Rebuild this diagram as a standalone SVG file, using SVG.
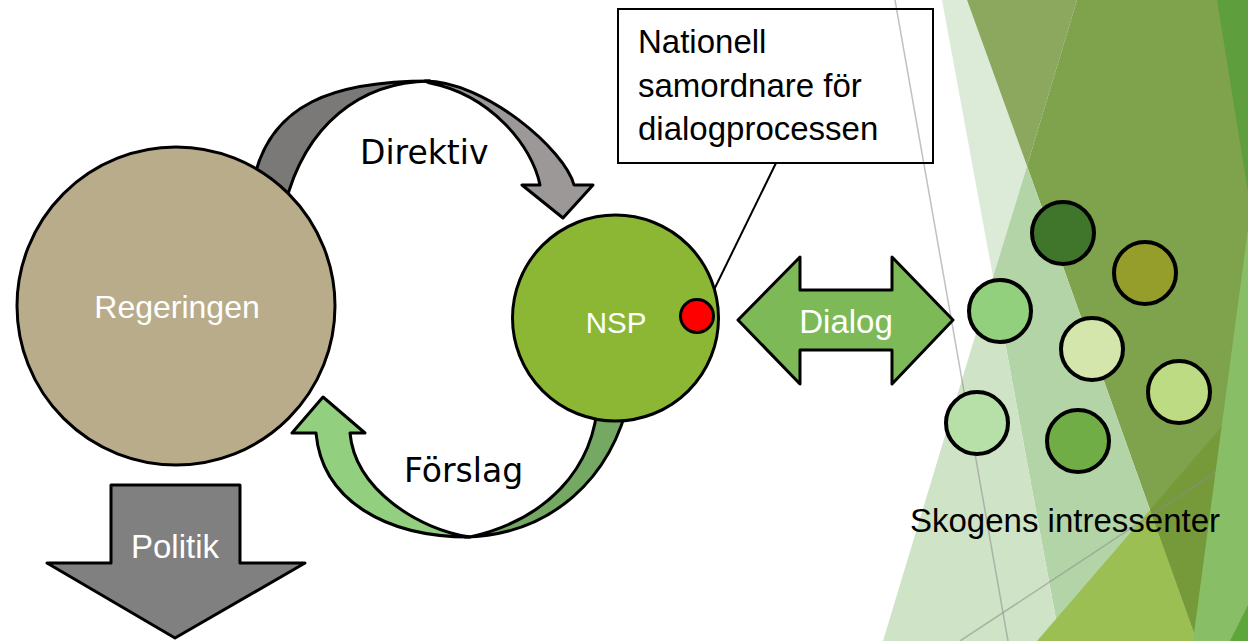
<svg xmlns="http://www.w3.org/2000/svg" width="1248" height="641" viewBox="0 0 1248 641">
<style>
.ol{stroke:#000;stroke-width:3;stroke-linejoin:round}
.sm{stroke:#000;stroke-width:4}
.wt{fill:#fff;font-family:"Liberation Sans",Arial,sans-serif;font-size:33px}
.bt{fill:#000;font-family:"Liberation Sans",Arial,sans-serif;font-size:33px}
.lb{fill:#000;font-family:"DejaVu Sans",Verdana,sans-serif;font-size:33px}
.gl{stroke:#8c8c8c;stroke-width:1.5;stroke-opacity:0.55;fill:none}
</style>
<rect width="1248" height="641" fill="#fff"/>
<g id="background">
<polygon points="942,0 967,0 1027,166 993,277" fill="#dcebd8"/>
<polygon points="967,0 1077,0 1027,166" fill="#8ba85e"/>
<polygon points="1077,0 1248,0 1248,641 1197,641 1027,166" fill="#7fa24c"/>
<polygon points="1027,166 1197,641 1060,641 993,277" fill="#b3d4a7"/>
<polygon points="993,277 1060,641 883,641" fill="#cfe3c6"/>
<polygon points="1037,641 1150,510 1197,641" fill="#9bbf52"/>
<polygon points="1150,510 1248,396 1248,641 1197,641" fill="#76993a"/>
<line class="gl" x1="895" y1="0" x2="1008" y2="641"/>
<line class="gl" x1="960" y1="641" x2="1248" y2="451"/>
<polygon points="1217,0 1248,0 1248,192" fill="#5f9e3d"/>
<polygon points="1248,229 1248,641 1193,641" fill="#88bf66"/>
<polygon points="1248,605 1248,641 1230,641" fill="#5ea53c"/>
</g>
<g id="connectors">
<g id="direktiv-arrow">
<path class="ol" fill="#7a7978" d="M252,190 C265,100 340,81 430,81 C360,82 305,125 285,205 Z"/>
<path class="ol" fill="#9b9897" d="M425,81 C485,81 565,150 574,185 L593,185 L563,218 L522,185 L540,185 C532,145 490,95 430,83 Z"/>
</g>
<g id="forslag-arrow">
<path class="ol" fill="#75a862" d="M465,537 C550,535 612,480 630,395 L598,398 C595,470 545,520 470,537 Z"/>
<path class="ol" fill="#92d07f" d="M350,433 L365,433 L323,397 L292,433 L316,433 C322,500 385,537 470,537 C420,530 355,490 350,433 Z"/>
</g>
<line id="callout-line" x1="776" y1="163" x2="709" y2="300" stroke="#000" stroke-width="2"/>
</g>
<g id="regeringen">
<circle class="ol" cx="176" cy="306" r="159" fill="#b9ac8b"/>
<text class="wt" x="177" y="318" text-anchor="middle" style="font-size:32px">Regeringen</text>
</g>
<g id="nsp">
<circle class="ol" cx="615.5" cy="318" r="103" fill="#8bb734"/>
<text class="wt" x="616" y="333" text-anchor="middle" style="font-size:29.5px">NSP</text>
</g>
<g id="samordnare-dot">
<circle class="ol" cx="697" cy="316" r="16.5" fill="#ff0000"/>
</g>
<g id="samordnare-box">
<rect x="618" y="9" width="315" height="154" fill="none" stroke="#000" stroke-width="2"/>
<text class="bt" x="638" y="53">Nationell</text>
<text class="bt" x="638" y="97">samordnare för</text>
<text class="bt" x="638" y="140">dialogprocessen</text>
</g>
<g id="direktiv-label"><text class="lb" x="360" y="164">Direktiv</text></g>
<g id="forslag-label"><text class="lb" x="404" y="482">Förslag</text></g>
<g id="dialog">
<polygon class="ol" fill="#7dba57" points="738,320 800,257 800,290 892,290 892,257 953,320 892,384 892,350 800,350 800,384"/>
<text class="wt" x="846" y="333" text-anchor="middle">Dialog</text>
</g>
<g id="politik">
<polygon class="ol" fill="#808080" points="111,485 240,485 240,563 305,563 175,638 47,563 111,563"/>
<text class="wt" x="175" y="558" text-anchor="middle">Politik</text>
</g>
<g id="intressenter">
<circle class="sm" cx="1063" cy="233" r="31" fill="#3f762b"/>
<circle class="sm" cx="1145" cy="273" r="31" fill="#959e2a"/>
<circle class="sm" cx="1000" cy="311" r="31" fill="#92d07e"/>
<circle class="sm" cx="1092" cy="349" r="31" fill="#d4e6ab"/>
<circle class="sm" cx="1179" cy="392" r="31" fill="#bddb82"/>
<circle class="sm" cx="977" cy="423" r="31" fill="#b7e0a9"/>
<circle class="sm" cx="1078" cy="441" r="31" fill="#70ad47"/>
<text class="bt" x="910" y="532">Skogens intressenter</text>
</g>
</svg>
